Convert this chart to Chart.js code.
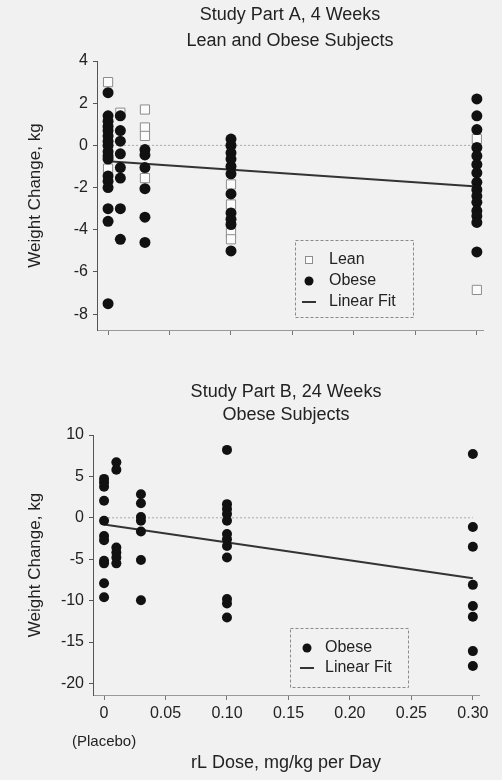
<!DOCTYPE html>
<html>
<head>
<meta charset="utf-8">
<title>rL dose and weight change</title>
<script src="https://cdn.jsdelivr.net/npm/chart.js@4.4.1/dist/chart.umd.min.js"></script>
<style>
  body { margin: 0; background: #f1f1f1; }
  #wrap { position: relative; width: 502px; height: 780px; background: #f1f1f1; }
  canvas { position: absolute; left: 0; }
</style>
</head>
<body>
<div id="wrap">
  <canvas id="partA" width="502" height="345" style="top:0px"></canvas>
  <canvas id="partB" width="502" height="400" style="top:380px"></canvas>
</div>
<script>
// dose groups (mg/kg per day), placebo = 0
var doseLevels = [0, 0.01, 0.03, 0.10, 0.30];

// Part A, 4 weeks: weight change (kg) per dose group
var partALean = [
    [3.0, -1.1],
    [1.55],
    [1.7, 0.85, 0.45, -1.55],
    [-1.85, -2.8, -4.15, -4.45],
    [0.3, -6.85]
];
var partAObese = [
    [2.5, 1.4, 1.15, 0.9, 0.7, 0.45, 0.2, 0.0, -0.3, -0.5, -0.65, -1.45, -1.7, -2.0, -3.0, -3.6, -7.5],
    [1.4, 0.7, 0.2, -0.4, -1.05, -1.55, -3.0, -4.45],
    [-0.2, -0.45, -1.05, -2.05, -3.4, -4.6],
    [0.3, 0.0, -0.35, -0.65, -1.0, -1.35, -2.3, -3.2, -3.5, -3.75, -5.0],
    [2.2, 1.4, 0.75, -0.1, -0.5, -0.9, -1.3, -1.75, -2.1, -2.4, -2.7, -3.1, -3.35, -3.65, -5.05]
];
var partAFit = [-0.75, -1.95];   // fit value at dose 0 and at 0.30

// Part B, 24 weeks
var partBObese = [
    [4.7, 4.25, 3.75, 2.05, -0.35, -2.2, -2.7, -5.2, -5.5, -7.9, -9.6],
    [6.7, 5.8, -3.6, -4.2, -4.8, -5.5],
    [2.85, 1.75, 0.1, -0.35, -1.65, -5.1, -9.95],
    [8.2, 1.65, 1.05, 0.45, -0.35, -1.95, -2.6, -3.4, -4.8, -9.8, -10.35, -12.05],
    [7.7, -1.1, -3.5, -8.1, -10.65, -11.95, -16.1, -17.9]
];
var partBFit = [-0.8, -7.3];

// ticks
var xTicks = [0, 0.05, 0.10, 0.15, 0.20, 0.25, 0.30];
var xTickLabels = ['0', '0.05', '0.10', '0.15', '0.20', '0.25', '0.30'];
var yTicksA = [-8, -6, -4, -2, 0, 2, 4];
var yTicksB = [-20, -15, -10, -5, 0, 5, 10];

var FONT = '"Liberation Sans", Arial, Helvetica, sans-serif';
Chart.defaults.font.family = FONT;
Chart.defaults.color = '#222';

function toPoints(groups) {
    var pts = [];
    groups.forEach(function (vals, i) {
        vals.forEach(function (v) { pts.push({ x: doseLevels[i], y: v }); });
    });
    return pts;
}

function lineEnds(fit) {
    return [{ x: doseLevels[0], y: fit[0] }, { x: doseLevels[doseLevels.length - 1], y: fit[1] }];
}

function zeroLine() {
    return {
        label: 'zero',
        data: [{ x: doseLevels[0], y: 0 }, { x: doseLevels[doseLevels.length - 1], y: 0 }],
        showLine: true, pointRadius: 0, borderColor: '#a8a8a8', borderWidth: 1,
        borderDash: [2, 2], order: 5
    };
}

// titles, and the small note under x = 0
function titlePlugin(lines, note) {
    return {
        id: 'panelTitles',
        afterDraw: function (chart) {
            var ctx = chart.ctx, area = chart.chartArea;
            var cx = (area.left + area.right) / 2;
            ctx.save();
            ctx.textAlign = 'center';
            ctx.textBaseline = 'middle';
            ctx.fillStyle = '#222';
            lines.forEach(function (l) {
                ctx.font = l.size + 'px ' + FONT;
                ctx.fillText(l.text, cx, l.y);
            });
            if (note) {
                ctx.font = '15px ' + FONT;
                ctx.fillText(note.text, chart.scales.x.getPixelForValue(note.at), note.y);
            }
            ctx.restore();
        }
    };
}

// legend box drawn inside the plot
function legendPlugin(box) {
    return {
        id: 'insetLegend',
        afterDraw: function (chart) {
            var ctx = chart.ctx;
            ctx.save();
            ctx.strokeStyle = '#8a8a8a';
            ctx.lineWidth = 1;
            ctx.setLineDash([3, 2]);
            ctx.strokeRect(box.x + 0.5, box.y + 0.5, box.w, box.h);
            ctx.setLineDash([]);
            ctx.font = '16px ' + FONT;
            ctx.textBaseline = 'middle';
            ctx.textAlign = 'left';
            var items = chart.data.datasets.filter(function (d) { return d.inLegend; });
            items.forEach(function (d, i) {
                var y = box.y + box.first + i * box.gap;
                var mx = box.x + box.markX;
                if (d.showLine) {
                    ctx.strokeStyle = d.borderColor;
                    ctx.lineWidth = 2;
                    ctx.beginPath();
                    ctx.moveTo(mx - 7, y);
                    ctx.lineTo(mx + 7, y);
                    ctx.stroke();
                } else if (d.pointStyle === 'rect') {
                    ctx.fillStyle = d.backgroundColor;
                    ctx.strokeStyle = d.borderColor;
                    ctx.lineWidth = 1;
                    ctx.fillRect(mx - 4, y - 4, 8, 8);
                    ctx.strokeRect(mx - 3.5, y - 3.5, 7, 7);
                } else {
                    ctx.fillStyle = d.backgroundColor;
                    ctx.beginPath();
                    ctx.arc(mx, y, 4.5, 0, Math.PI * 2);
                    ctx.fill();
                }
                ctx.fillStyle = '#222';
                ctx.fillText(d.label, box.x + box.textX, y);
            });
            ctx.restore();
        }
    };
}

function xScale(showLabels, height, title) {
    return {
        type: 'linear', min: -0.009, max: 0.305,
        afterBuildTicks: function (s) { s.ticks = xTicks.map(function (v) { return { value: v }; }); },
        afterFit: function (s) { s.height = height; },
        grid: { drawOnChartArea: false, drawTicks: true, tickLength: 5, color: '#777' },
        border: { color: '#9a9a9a', dash: [3, 2] },
        ticks: {
            display: showLabels, padding: 4, maxRotation: 0, autoSkip: false,
            font: { size: 16 }, color: '#222',
            callback: function (v, i) { return xTickLabels[i]; }
        },
        title: title ? { display: true, text: title, font: { size: 18 }, color: '#222', padding: { bottom: 6 } } : { display: false }
    };
}

function yScale(min, max, ticks, width) {
    return {
        min: min, max: max,
        afterBuildTicks: function (s) { s.ticks = ticks.map(function (v) { return { value: v }; }); },
        afterFit: function (s) { s.width = width; },
        grid: { drawOnChartArea: false, drawTicks: true, tickLength: 4, color: '#555' },
        border: { color: '#555', width: 1 },
        ticks: { padding: 5, font: { size: 16 }, color: '#222' },
        title: { display: true, text: 'Weight Change, kg', font: { size: 17 }, color: '#222', padding: { top: 25 } }
    };
}

var baseOptions = function (padding, scales) {
    return {
        responsive: false,
        animation: false,
        layout: { padding: padding },
        plugins: { legend: { display: false }, tooltip: { enabled: false }, title: { display: false } },
        scales: scales
    };
};

// Part A chart
new Chart(document.getElementById('partA').getContext('2d'), {
    type: 'scatter',
    data: {
        datasets: [
            {
                label: 'Lean', data: toPoints(partALean), inLegend: true,
                pointStyle: 'rect', pointRadius: 6.5, backgroundColor: '#fbfbfb',
                borderColor: '#8c8c8c', borderWidth: 1, order: 2
            },
            {
                label: 'Obese', data: toPoints(partAObese), inLegend: true,
                pointStyle: 'circle', pointRadius: 5.5, backgroundColor: '#111',
                borderColor: '#111', borderWidth: 0, order: 1
            },
            {
                label: 'Linear Fit', data: lineEnds(partAFit), inLegend: true,
                showLine: true, pointRadius: 0, borderColor: '#333', borderWidth: 2, order: 3
            },
            zeroLine()
        ]
    },
    options: baseOptions({ top: 61, right: 19, bottom: 5, left: 0 }, {
        x: xScale(false, 10, null),
        y: yScale(-8.75, 4, yTicksA, 97)
    }),
    plugins: [
        titlePlugin([
            { text: 'Study Part A, 4 Weeks', y: 15, size: 18 },
            { text: 'Lean and Obese Subjects', y: 41, size: 18 }
        ], null),
        legendPlugin({ x: 295, y: 240, w: 118, h: 77, first: 20, gap: 21, markX: 14, textX: 34 })
    ]
});

// Part B chart
new Chart(document.getElementById('partB').getContext('2d'), {
    type: 'scatter',
    data: {
        datasets: [
            {
                label: 'Obese', data: toPoints(partBObese), inLegend: true,
                pointStyle: 'circle', pointRadius: 5, backgroundColor: '#111',
                borderColor: '#111', borderWidth: 0, order: 1
            },
            {
                label: 'Linear Fit', data: lineEnds(partBFit), inLegend: true,
                showLine: true, pointRadius: 0, borderColor: '#333', borderWidth: 2, order: 3
            },
            zeroLine()
        ]
    },
    options: baseOptions({ top: 55, right: 23, bottom: 0, left: 0 }, {
        x: xScale(true, 85, 'rL Dose, mg/kg per Day'),
        y: yScale(-21.4, 10, yTicksB, 93)
    }),
    plugins: [
        titlePlugin([
            { text: 'Study Part B, 24 Weeks', y: 12, size: 18 },
            { text: 'Obese Subjects', y: 35, size: 18 }
        ], { text: '(Placebo)', at: 0, y: 362 }),
        legendPlugin({ x: 290, y: 248, w: 118, h: 59, first: 20, gap: 20, markX: 17, textX: 35 })
    ]
});
</script>
</body>
</html>
